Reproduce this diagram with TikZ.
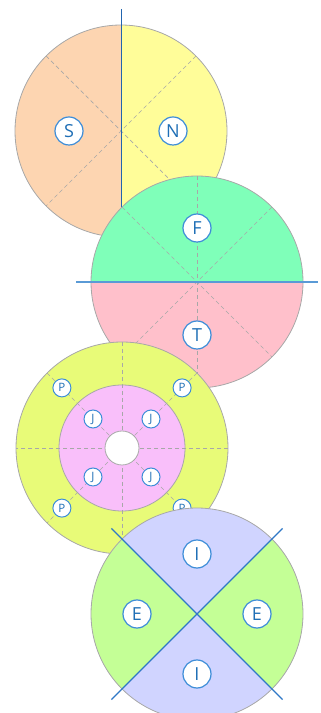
\documentclass[tikz,border=0pt]{standalone}
\usepackage{fontspec}
\setmainfont{Open Sans}
\usepackage{xcolor}
\usepackage{tikz}
\usetikzlibrary{calc}
\definecolor{axisdark}{HTML}{2265AE}
\definecolor{axislight}{HTML}{5A9AD6}
\definecolor{axisblue}{HTML}{2F78C6}
\definecolor{tagblue}{HTML}{3D8DD8}
\definecolor{tagtext}{HTML}{1F6FB6}
\definecolor{rimgray}{HTML}{A8A8A8}
\definecolor{sfill}{HTML}{FDD5B1}
\definecolor{nfill}{HTML}{FFFD99}
\definecolor{ffill}{HTML}{7FFFB9}
\definecolor{tfill}{HTML}{FFC0CB}
\definecolor{pfill}{HTML}{E8FB78}
\definecolor{jfill}{HTML}{F9BFFA}
\definecolor{efill}{HTML}{C4FF96}
\definecolor{ifill}{HTML}{D0D4FF}

\begin{document}
\begin{tikzpicture}[
    x=1pt, y=1pt,
    rim/.style={draw=rimgray, line width=0.8pt},
    spoke/.style={draw=rimgray, line width=0.7pt, dash pattern=on 4pt off 3pt},
    axis/.style={draw=axisblue, line width=1.3pt},
    tag/.style={circle, draw=tagblue, line width=1.2pt, fill=white, text=tagtext, inner sep=0pt, minimum size=28pt, font=\fontsize{18}{18}\selectfont},
    smalltag/.style={tag, minimum size=18pt, line width=1pt, font=\fontsize{11.5}{11.5}\selectfont}
]
\useasboundingbox (0,0) rectangle (321,713);

% centres of the four discs
\coordinate (sn) at (121,582);
\coordinate (ft) at (197,431);
\coordinate (pj) at (122,265);
\coordinate (ei) at (197,99);

% S / N
\fill[sfill] (sn) ++(90:106) arc[start angle=90, end angle=270, radius=106] -- cycle;
\fill[nfill] (sn) ++(-90:106) arc[start angle=-90, end angle=90, radius=106] -- cycle;
\draw[spoke] ($(sn)+(45:106)$) -- ($(sn)+(225:106)$);
\draw[spoke] ($(sn)+(135:106)$) -- ($(sn)+(-45:106)$);
\draw[rim] (sn) circle[radius=106];
\coordinate (snup) at ($(sn)+(0,122)$);
\coordinate (sndown) at ($(sn)+(0,-122)$);
\draw[axis, draw=axisdark, line width=1pt] (snup) -- (sndown);
\node[tag] (s) at ($(sn)+(-52,0)$) {S};
\node[tag] (n) at ($(sn)+(52,0)$) {N};

% F / T
\fill[ffill] (ft) ++(0:106) arc[start angle=0, end angle=180, radius=106] -- cycle;
\fill[tfill] (ft) ++(180:106) arc[start angle=180, end angle=360, radius=106] -- cycle;
\foreach \a in {45,90,135}
    \draw[spoke] ($(ft)+(\a:106)$) -- ($(ft)+(\a+180:106)$);
\draw[rim] (ft) circle[radius=106];
\coordinate (ftleft) at ($(ft)+(-121,0)$);
\coordinate (ftright) at ($(ft)+(121,0)$);
\draw[axis, draw=axislight, line width=1.6pt] (ftleft) -- (ftright);
\node[tag] (f) at ($(ft)+(0,54)$) {F};
\node[tag] (t) at ($(ft)+(0,-53)$) {T};

% P / J
\fill[pfill] (pj) circle[radius=106];
\fill[jfill] (pj) circle[radius=63];
\foreach \a in {0,45,90,135}
    \draw[spoke] ($(pj)+(\a:106)$) -- ($(pj)+(\a+180:106)$);
\fill[white] (pj) circle[radius=17];
\draw[rim] (pj) circle[radius=106];
\draw[rim] (pj) circle[radius=63];
\draw[rim] (pj) circle[radius=17];
\foreach \a/\k in {45/1,135/2,225/3,315/4} {
    \node[smalltag] (p\k) at ($(pj)+(\a:85)$) {P};
    \node[smalltag] (j\k) at ($(pj)+(\a:41)$) {J};
}

% E / I
\fill[ifill] (ei) circle[radius=106];
\fill[efill] (ei) -- ++(135:106) arc[start angle=135, end angle=225, radius=106] -- cycle;
\fill[efill] (ei) -- ++(-45:106) arc[start angle=-45, end angle=45, radius=106] -- cycle;
\draw[rim] (ei) circle[radius=106];
\coordinate (eia) at ($(ei)+(135:121)$);
\coordinate (eib) at ($(ei)+(-45:121)$);
\coordinate (eic) at ($(ei)+(45:121)$);
\coordinate (eid) at ($(ei)+(225:121)$);
\draw[axis] (eia) -- (eib);
\draw[axis] (eic) -- (eid);
\node[tag] (e1) at ($(ei)+(-60,0)$) {E};
\node[tag] (e2) at ($(ei)+(60,0)$) {E};
\node[tag] (i1) at ($(ei)+(0,60)$) {I};
\node[tag] (i2) at ($(ei)+(0,-60)$) {I};
\end{tikzpicture}
\end{document}
